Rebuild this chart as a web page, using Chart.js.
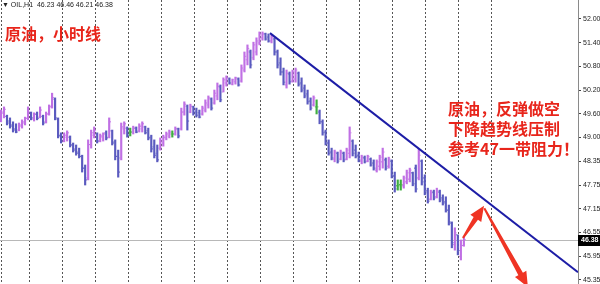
<!DOCTYPE html>
<html>
<head>
<meta charset="utf-8">
<script src="https://cdn.jsdelivr.net/npm/chart.js@4.4.1/dist/chart.umd.min.js"></script>
<style>
body { margin: 0; background: #fff; }
#wrap { position: relative; width: 600px; height: 284px; overflow: hidden; }
#c { position: absolute; left: 0; top: 0; }
.hd { position: absolute; left: 2px; top: 1px; font: 7px "Liberation Sans", sans-serif; color: #222; white-space: pre; }
.note { position: absolute; font-family: "Noto Sans CJK SC", sans-serif; font-weight: bold; font-size: 16px; color: #e8251b; line-height: 20px; white-space: nowrap; }
</style>
</head>
<body>
<div id="wrap">
  <canvas id="c" width="600" height="284"></canvas>
  <div class="hd">▼ OIL,H1  46.23 46.46 46.21 46.38</div>
  <div class="note" style="left:5px;top:23px;">原油，小时线</div>
  <div class="note" style="left:448px;top:98px;">原油，反弹做空<br>下降趋势线压制<br>参考47一带阻力！</div>
</div>
<script>
// OIL H1 bars (oldest first)
const openVals = [
  49.43, 49.60, 49.52, 49.40, 49.30, 49.20, 49.17, 49.27, 49.35, 49.47,
  49.60, 49.45, 49.58, 49.50, 49.52, 49.38, 49.58, 49.78, 49.96, 49.45,
  49.04, 48.89, 48.99, 48.99, 48.79, 48.69, 48.61, 48.50, 48.20, 47.95,
  48.80, 49.04, 49.07, 48.89, 48.99, 49.10, 48.99, 49.15, 48.87, 48.50,
  48.46, 49.20, 49.22, 49.12, 49.12, 49.22, 49.15, 49.20, 49.25, 49.15,
  48.99, 48.74, 48.58, 48.71, 48.84, 48.97, 49.02, 49.07, 49.07, 49.20,
  49.20, 49.63, 49.78, 49.63, 49.76, 49.63, 49.61, 49.58, 49.68, 49.81,
  49.96, 49.86, 50.04, 50.27, 50.14, 50.37, 50.47, 50.34, 50.40, 50.47,
  50.42, 50.70, 50.96, 51.16, 51.01, 51.16, 51.39, 51.52, 51.62, 51.54,
  51.44, 51.49, 51.16, 50.88, 50.65, 50.32, 50.60, 50.42, 50.47, 50.62,
  50.37, 50.24, 50.09, 49.91, 49.81, 49.76, 49.63, 49.38, 49.12, 48.84,
  48.61, 48.43, 48.58, 48.43, 48.58, 48.43, 48.58, 48.89, 48.66, 48.53,
  48.38, 48.46, 48.38, 48.43, 48.33, 48.15, 48.25, 48.36, 48.41, 48.25,
  48.38, 48.00, 47.75, 47.78, 47.75, 47.85, 47.92, 48.08, 48.20, 47.95,
  48.38, 47.95, 47.62, 47.41, 47.59, 47.47, 47.59, 47.44, 47.34, 47.13,
  46.80, 46.25, 46.50, 45.95, 46.23
];
const highVals = [
  49.68, 49.76, 49.55, 49.48, 49.38, 49.33, 49.35, 49.43, 49.50, 49.76,
  49.63, 49.61, 49.63, 49.76, 49.55, 49.63, 49.81, 50.11, 49.99, 49.48,
  49.10, 49.10, 49.15, 49.02, 48.84, 48.79, 48.71, 48.53, 48.28, 48.92,
  49.17, 49.25, 49.10, 49.07, 49.10, 49.15, 49.48, 49.17, 48.92, 48.66,
  49.35, 49.38, 49.25, 49.22, 49.27, 49.25, 49.33, 49.38, 49.27, 49.22,
  49.04, 48.92, 48.79, 48.97, 49.04, 49.12, 49.17, 49.15, 49.25, 49.22,
  49.73, 49.89, 49.81, 49.83, 49.78, 49.73, 49.68, 49.78, 49.94, 50.04,
  49.99, 50.19, 50.37, 50.32, 50.50, 50.55, 50.50, 50.47, 50.52, 50.50,
  50.83, 51.16, 51.34, 51.21, 51.41, 51.52, 51.67, 51.67, 51.64, 51.62,
  51.59, 51.52, 51.21, 51.01, 50.75, 50.70, 50.65, 50.70, 50.75, 50.65,
  50.50, 50.32, 50.19, 49.99, 50.04, 49.94, 49.68, 49.43, 49.17, 48.92,
  48.71, 48.66, 48.61, 48.66, 48.61, 48.71, 49.25, 48.92, 48.79, 48.61,
  48.53, 48.51, 48.53, 48.46, 48.41, 48.41, 48.53, 48.71, 48.46, 48.48,
  48.41, 48.10, 47.90, 47.90, 48.00, 48.15, 48.20, 48.10, 48.28, 48.69,
  48.41, 48.03, 47.69, 47.64, 47.64, 47.69, 47.64, 47.52, 47.47, 47.26,
  46.83, 46.68, 46.50, 46.37, 46.46
];
const lowVals = [
  49.38, 49.48, 49.30, 49.22, 49.12, 49.10, 49.15, 49.22, 49.30, 49.43,
  49.43, 49.40, 49.43, 49.48, 49.30, 49.35, 49.55, 49.73, 49.43, 48.97,
  48.84, 48.87, 48.89, 48.74, 48.61, 48.53, 48.46, 48.10, 47.77, 47.90,
  48.71, 48.97, 48.84, 48.87, 48.89, 48.92, 48.97, 48.79, 48.41, 47.97,
  48.41, 49.07, 48.99, 49.02, 49.07, 49.10, 49.12, 49.12, 49.07, 48.92,
  48.61, 48.46, 48.36, 48.66, 48.76, 48.92, 48.97, 48.99, 49.04, 48.97,
  49.17, 49.55, 49.17, 49.61, 49.55, 49.50, 49.48, 49.55, 49.63, 49.73,
  49.68, 49.83, 49.94, 49.89, 50.14, 50.29, 50.34, 50.32, 50.34, 50.29,
  50.39, 50.65, 50.83, 50.75, 50.96, 51.08, 51.34, 51.46, 51.46, 51.41,
  51.39, 51.08, 50.75, 50.57, 50.32, 50.24, 50.34, 50.39, 50.39, 50.29,
  50.14, 49.99, 49.83, 49.68, 49.78, 49.58, 49.33, 49.04, 48.79, 48.53,
  48.41, 48.36, 48.33, 48.41, 48.36, 48.41, 48.46, 48.51, 48.46, 48.36,
  48.31, 48.33, 48.36, 48.25, 48.15, 48.10, 48.15, 48.20, 48.15, 48.20,
  47.95, 47.59, 47.64, 47.64, 47.69, 47.80, 47.85, 47.75, 47.59, 47.90,
  47.77, 47.52, 47.31, 47.39, 47.39, 47.44, 47.34, 47.26, 47.08, 46.75,
  46.17, 46.11, 45.99, 45.86, 46.21
];
const closeVals = [
  49.63, 49.70, 49.35, 49.27, 49.17, 49.12, 49.30, 49.38, 49.47, 49.63,
  49.48, 49.57, 49.47, 49.68, 49.35, 49.58, 49.76, 50.00, 49.48, 49.02,
  48.89, 49.04, 49.10, 48.79, 48.66, 48.58, 48.50, 48.20, 47.90, 48.80,
  49.10, 49.17, 48.89, 49.02, 49.07, 48.97, 49.38, 48.84, 48.50, 48.10,
  49.25, 49.33, 49.04, 49.12, 49.22, 49.12, 49.27, 49.33, 49.10, 48.97,
  48.69, 48.53, 48.41, 48.89, 48.99, 49.07, 49.12, 49.07, 49.20, 49.02,
  49.63, 49.83, 49.40, 49.78, 49.61, 49.55, 49.50, 49.73, 49.86, 49.99,
  49.73, 50.11, 50.29, 49.94, 50.45, 50.50, 50.37, 50.45, 50.50, 50.32,
  50.75, 51.05, 51.25, 50.83, 51.34, 51.44, 51.62, 51.62, 51.49, 51.44,
  51.54, 51.16, 50.83, 50.65, 50.39, 50.62, 50.40, 50.65, 50.70, 50.34,
  50.19, 50.04, 49.89, 49.73, 49.99, 49.76, 49.38, 49.10, 48.84, 48.58,
  48.46, 48.61, 48.38, 48.61, 48.41, 48.66, 49.10, 48.58, 48.50, 48.41,
  48.48, 48.36, 48.50, 48.28, 48.20, 48.36, 48.48, 48.61, 48.20, 48.43,
  48.00, 47.67, 47.75, 47.78, 47.95, 48.08, 48.15, 47.80, 47.67, 48.53,
  47.85, 47.57, 47.36, 47.57, 47.44, 47.62, 47.39, 47.31, 47.13, 46.83,
  46.30, 46.55, 46.10, 46.23, 46.38
];

// right price axis
const yTickValues = [52.00, 51.395, 50.79, 50.19, 49.58, 48.98, 48.37, 47.77, 47.16, 46.56, 45.95, 45.35];
const yTickLabels = ['52.00', '51.40', '50.80', '50.20', '49.60', '49.00', '48.35', '47.75', '47.15', '46.55', '45.95', '45.35'];
// time separators (bar index units)
const gridX = [0.33, 9.32, 20.32, 31.32, 42.32, 53.32, 64.32, 75.32, 86.32, 97.32, 108.32, 119.32, 130.32, 141.32, 152.32, 163.32];

// drawn objects, in bar index / price
const trendX = [89.5, 191.97];
const trendY = [51.64, 45.55];
const arrowUp = [[153.7, 46.42], [160.7, 47.24]];
const arrowDown = [[160.8, 47.18], [175.3, 45.17]];
const lastPrice = 46.38;

const xMin = -0.33, xMax = 191.97;
const yMin = 45.248, yMax = 52.484;

const upColor = '#c070e4', downColor = '#5a5abf', flatColor = '#3fae3f';
const barColors = openVals.map((o, i) => closeVals[i] > o ? upColor : (closeVals[i] < o ? downColor : flatColor));
const barData = highVals.map((h, i) => ({ x: i, y: [lowVals[i], h] }));
const trendData = trendX.map((x, i) => ({ x: x, y: trendY[i] }));

function drawArrow(ctx, x1, y1, x2, y2) {
  const len = Math.hypot(x2 - x1, y2 - y1);
  const ux = (x2 - x1) / len, uy = (y2 - y1) / len;
  const nx = -uy, ny = ux;
  const headL = 15, headW = 6.5, neck = 2.6, tail = 1;
  const bx = x2 - ux * headL, by = y2 - uy * headL;
  ctx.beginPath();
  ctx.moveTo(x1 + nx * tail, y1 + ny * tail);
  ctx.lineTo(bx + nx * neck, by + ny * neck);
  ctx.lineTo(bx + nx * headW, by + ny * headW);
  ctx.lineTo(x2, y2);
  ctx.lineTo(bx - nx * headW, by - ny * headW);
  ctx.lineTo(bx - nx * neck, by - ny * neck);
  ctx.lineTo(x1 - nx * tail, y1 - ny * tail);
  ctx.closePath();
  ctx.fill();
}

const overlay = {
  id: 'overlay',
  beforeDatasetsDraw(chart) {
    const { ctx, chartArea: a, scales: { x, y } } = chart;
    const py = Math.round(y.getPixelForValue(lastPrice)) + 0.5;
    ctx.save();
    ctx.strokeStyle = '#b8b8b8';
    ctx.lineWidth = 1;
    ctx.beginPath();
    ctx.moveTo(a.left, py);
    ctx.lineTo(a.right, py);
    ctx.stroke();
    // open / close ticks of each bar
    openVals.forEach((o, i) => {
      const px = x.getPixelForValue(i);
      ctx.fillStyle = barColors[i];
      ctx.fillRect(px - 1.75, y.getPixelForValue(o) - 0.5, 1, 1);
      ctx.fillRect(px + 0.75, y.getPixelForValue(closeVals[i]) - 0.5, 1, 1);
    });
    ctx.restore();
  },
  afterDraw(chart) {
    const { ctx, chartArea: a, scales: { x, y } } = chart;
    ctx.save();
    ctx.fillStyle = '#ef3424';
    [arrowUp, arrowDown].forEach(ar => {
      drawArrow(ctx, x.getPixelForValue(ar[0][0]), y.getPixelForValue(ar[0][1]),
                     x.getPixelForValue(ar[1][0]), y.getPixelForValue(ar[1][1]));
    });
    // last price tag
    const py = Math.round(y.getPixelForValue(lastPrice));
    ctx.fillStyle = '#000';
    ctx.fillRect(a.right, py - 5, 600 - a.right, 11);
    ctx.fillStyle = '#fff';
    ctx.font = 'bold 7px "Liberation Sans"';
    ctx.textBaseline = 'middle';
    ctx.fillText(lastPrice.toFixed(2), a.right + 3, py + 0.5);
    ctx.restore();
  }
};

new Chart(document.getElementById('c'), {
  type: 'bar',
  data: {
    datasets: [
      {
        type: 'line',
        data: trendData,
        borderColor: '#1d1da6',
        borderWidth: 2,
        pointRadius: 0,
        order: 0
      },
      {
        data: barData,
        backgroundColor: barColors,
        barThickness: 1.5,
        order: 1
      }
    ]
  },
  options: {
    responsive: false,
    devicePixelRatio: 1,
    animation: false,
    layout: { padding: 0 },
    plugins: { legend: { display: false }, tooltip: { enabled: false } },
    scales: {
      x: {
        type: 'linear',
        min: xMin,
        max: xMax,
        offset: false,
        afterBuildTicks: s => { s.ticks = gridX.map(v => ({ value: v })); },
        afterFit: s => { s.height = 0; s.paddingLeft = 0; s.paddingRight = 0; },
        ticks: { display: false },
        grid: { offset: false, drawTicks: false, color: '#555', lineWidth: 1 },
        border: { display: false, dash: [2, 2] }
      },
      y: {
        position: 'right',
        min: yMin,
        max: yMax,
        afterBuildTicks: s => { s.ticks = yTickValues.map(v => ({ value: v })); },
        afterFit: s => { s.width = 22; s.paddingTop = 0; s.paddingBottom = 0; },
        ticks: {
          autoSkip: false,
          padding: 2,
          color: '#222',
          font: { family: 'Liberation Sans', size: 7 },
          callback: (v, i) => yTickLabels[i]
        },
        grid: { drawOnChartArea: false, drawTicks: true, tickLength: 3, tickColor: '#444' },
        border: { display: true, color: '#8a8a8a' }
      }
    }
  },
  plugins: [overlay]
});
</script>
</body>
</html>
